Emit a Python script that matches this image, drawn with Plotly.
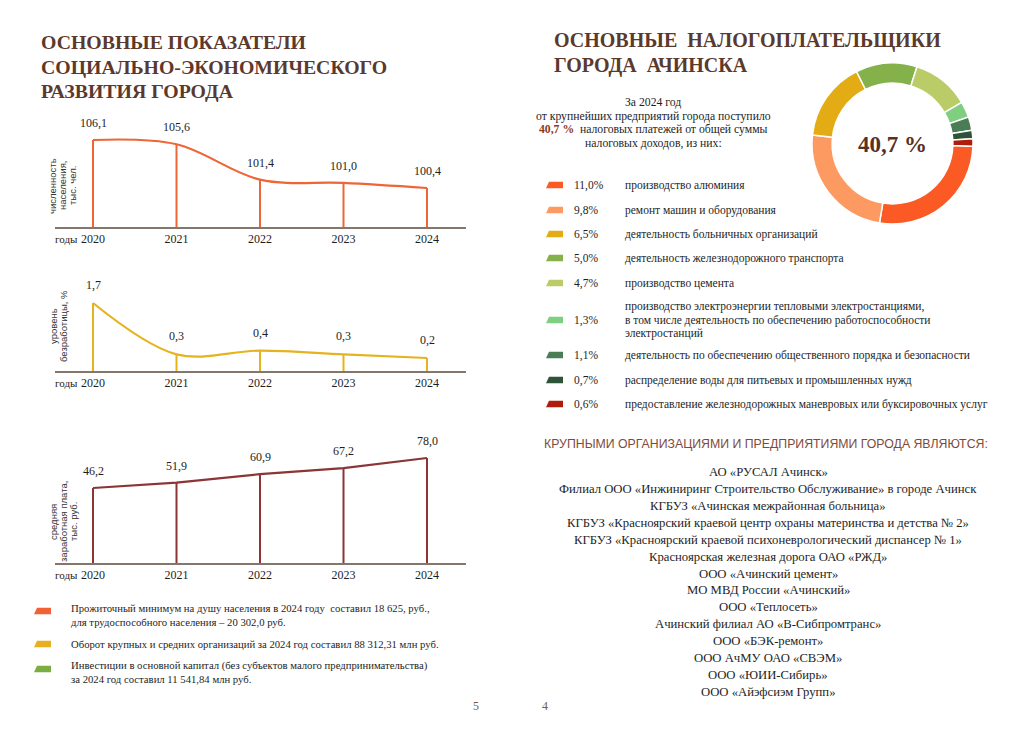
import plotly.graph_objects as go

# ---------------- data ----------------
years = [2020, 2021, 2022, 2023, 2024]
population = [106.1, 105.6, 101.4, 101.0, 100.4]
unemployment = [1.7, 0.3, 0.4, 0.3, 0.2]
salary = [46.2, 51.9, 60.9, 67.2, 78.0]

tax_shares = [11.0, 9.8, 6.5, 5.0, 4.7, 1.3, 1.1, 0.7, 0.6]
tax_labels = [
    ["производство алюминия"],
    ["ремонт машин и оборудования"],
    ["деятельность больничных организаций"],
    ["деятельность железнодорожного транспорта"],
    ["производство цемента"],
    ["производство электроэнергии тепловыми электростанциями,",
     "в том числе деятельность по обеспечению работоспособности",
     "электростанций"],
    ["деятельность по обеспечению общественного порядка и безопасности"],
    ["распределение воды для питьевых и промышленных нужд"],
    ["предоставление железнодорожных маневровых или буксировочных услуг"],
]
tax_colors = ["#fb5a24", "#fd9a62", "#e3ac14", "#84b14a", "#b9cc68",
              "#7fcf80", "#4a7d56", "#2f5338", "#b01c0c"]
total_share = 40.7

companies = [
    "АО «РУСАЛ Ачинск»",
    "Филиал ООО «Инжиниринг Строительство Обслуживание» в городе Ачинск",
    "КГБУЗ «Ачинская межрайонная больница»",
    "КГБУЗ «Красноярский краевой центр охраны материнства и детства № 2»",
    "КГБУЗ «Красноярский краевой психоневрологический диспансер № 1»",
    "Красноярская железная дорога ОАО «РЖД»",
    "ООО «Ачинский цемент»",
    "МО МВД России «Ачинский»",
    "ООО «Теплосеть»",
    "Ачинский филиал АО «В-Сибпромтранс»",
    "ООО «БЭК-ремонт»",
    "ООО АчМУ ОАО «СВЭМ»",
    "ООО «ЮИИ-Сибирь»",
    "ООО «Айэфсиэм Групп»",
]

facts = [
    ["Прожиточный минимум на душу населения в 2024 году  составил 18 625, руб.,",
     "для трудоспособного населения – 20 302,0 руб."],
    ["Оборот крупных и средних организаций за 2024 год составил 88 312,31 млн руб."],
    ["Инвестиции в основной капитал (без субъектов малого предпринимательства)",
     "за 2024 год составил 11 541,84 млн руб."],
]
fact_colors = ["#f26134", "#e8b020", "#7cad42"]

# ---------------- helpers ----------------
OFF = 8                      # page body margin of the html page
W, H = 1024 - OFF, 730 - OFF
def X(px): return (px - OFF) / W
def Y(py): return 1 - (py - OFF) / H

SERIF = "Liberation Serif"
SANS = "Liberation Sans"
BROWN = "#5b392c"
TXT = "#1e1e1e"

fig = go.Figure()
annotations = []
shapes = []

def text(x, y, s, size=11.5, color=TXT, anchor="left", family=SERIF, angle=0, yanchor="middle"):
    annotations.append(dict(x=X(x), y=Y(y), xref="paper", yref="paper", text=s,
                            showarrow=False, xanchor=anchor, yanchor=yanchor,
                            textangle=angle,
                            font=dict(family=family, size=size, color=color)))

def fmt(v):
    return f"{v:.1f}".replace(".", ",")

# ---------------- line charts ----------------
charts = [
    dict(vals=population, color="#ee6536", shape="spline", ax="", dom=(227, 115), rng=(95.77, 109.07),
         title=["численность", "населения,", "тыс. чел."], tcy=186, shift=17),
    dict(vals=unemployment, color="#e6b320", shape="spline", ax="2", dom=(371, 280), rng=(-0.1545, 2.327),
         title=["уровень", "безработицы, %"], tcy=326, shift=18),
    dict(vals=salary, color="#8b3535", shape="linear", ax="3", dom=(563, 430), rng=(-33.3, 107.7),
         title=["средняя", "заработная плата,", "тыс. руб."], tcy=522, shift=17),
]

xleft, xright = 55, 466
pxy = 83.5
xr = (2020 - (93 - xleft) / pxy, 2024 + (xright - 427) / pxy)
for c in charts:
    xa = "x" + c["ax"]
    ya = "y" + c["ax"]
    base = c["rng"][0]
    # drop lines
    dx, dy = [], []
    for yr, v in zip(years, c["vals"]):
        dx += [yr, yr, None]
        dy += [base, v, None]
    fig.add_trace(go.Scatter(x=dx, y=dy, mode="lines", xaxis=xa, yaxis=ya,
                             line=dict(color=c["color"], width=2), hoverinfo="skip",
                             showlegend=False))
    fig.add_trace(go.Scatter(x=years, y=c["vals"], mode="lines", xaxis=xa, yaxis=ya,
                             line=dict(color=c["color"], width=2.2, shape=c["shape"]),
                             showlegend=False))
    for yr, v in zip(years, c["vals"]):
        annotations.append(dict(x=yr, y=v, xref=xa, yref=ya, text=fmt(v), showarrow=False,
                                yshift=c["shift"], xanchor="center", yanchor="middle",
                                font=dict(family=SERIF, size=12, color=TXT)))
    lay_x = "xaxis" + c["ax"]
    lay_y = "yaxis" + c["ax"]
    fig.update_layout(**{
        lay_x: dict(domain=[X(xleft), X(xright)], range=list(xr), anchor=ya,
                    showline=True, linecolor="#85766c", linewidth=1.5,
                    showgrid=False, zeroline=False, ticks="",
                    tickvals=years, ticktext=[str(y) for y in years],
                    tickfont=dict(family=SERIF, size=12, color=TXT)),
        lay_y: dict(domain=[Y(c["dom"][0]), Y(c["dom"][1])], range=list(c["rng"]),
                    visible=False, anchor=xa),
    })
    # "годы"
    text(53, c["dom"][0] + 12, "годы", size=11)
    # vertical axis title
    for i, line in enumerate(c["title"]):
        text(53 + 10 * i, c["tcy"], line, size=9.5, family=SANS, color="#333333",
             anchor="center", angle=-90)

# ---------------- donut ----------------
fig.add_trace(go.Pie(values=tax_shares, marker=dict(colors=tax_colors, line=dict(color="white", width=1.5)),
                     hole=0.75, sort=False, direction="clockwise", rotation=92,
                     textinfo="none", hoverinfo="skip", showlegend=False,
                     domain=dict(x=[X(812), X(973)], y=[Y(224), Y(63)])))
text(892, 145, "<b>" + fmt(total_share) + " %</b>", size=23, color="#5a3022", anchor="center")

# ---------------- headings ----------------
for i, s in enumerate(["ОСНОВНЫЕ ПОКАЗАТЕЛИ", "СОЦИАЛЬНО-ЭКОНОМИЧЕСКОГО", "РАЗВИТИЯ ГОРОДА"]):
    text(39, 42 + 24.5 * i, "<b>" + s + "</b>", size=19.8, color=BROWN)
for i, s in enumerate(["ОСНОВНЫЕ  НАЛОГОПЛАТЕЛЬЩИКИ", "ГОРОДА  АЧИНСКА"]):
    text(552, 40 + 25 * i, "<b>" + s + "</b>", size=20, color=BROWN)

# intro text
intro = ["За 2024 год",
         "от крупнейших предприятий города поступило",
         "<b><span style='color:#8a3a1c'>" + fmt(total_share) + " %</span></b>  налоговых платежей от общей суммы",
         "налоговых доходов, из них:"]
for i, s in enumerate(intro):
    text(653, 103 + 13.4 * i, s, size=11.7, anchor="center")

# right legend
row_y = [185, 210, 234, 258, 283, 320, 355, 380, 404]
for yc, share, lab, col in zip(row_y, tax_shares, tax_labels, tax_colors):
    x0, w, h, sl = 546, 17, 6.5, 3
    shapes.append(dict(type="path", xref="paper", yref="paper",
                       path=f"M {X(x0+sl)},{Y(yc-h/2)} L {X(x0+w)},{Y(yc-h/2)} L {X(x0+w)},{Y(yc+h/2)} L {X(x0)},{Y(yc+h/2)} Z",
                       fillcolor=col, line=dict(width=0)))
    text(572, yc, fmt(share) + "%", size=11.5)
    n = len(lab)
    for j, line in enumerate(lab):
        text(623, yc + (j - (n - 1) / 2) * 13.5, line, size=11.5)

# organisations
text(766, 444, "КРУПНЫМИ ОРГАНИЗАЦИЯМИ И ПРЕДПРИЯТИЯМИ ГОРОДА ЯВЛЯЮТСЯ:", size=12.3,
     color="#7e4a3a", anchor="center", family=SANS)
for i, s in enumerate(companies):
    text(768, 472 + 16.92 * i, s, size=12.7, anchor="center")

# bottom-left facts
fact_y = [(611, [608, 622]), (644, [644]), (669, [665, 679])]
for (my, ly), lines, col in zip(fact_y, facts, fact_colors):
    x0, w, h, sl = 34, 17, 6.5, 3
    shapes.append(dict(type="path", xref="paper", yref="paper",
                       path=f"M {X(x0+sl)},{Y(my-h/2)} L {X(x0+w)},{Y(my-h/2)} L {X(x0+w)},{Y(my+h/2)} L {X(x0)},{Y(my+h/2)} Z",
                       fillcolor=col, line=dict(width=0)))
    for yy, line in zip(ly, lines):
        text(69, yy, line, size=10.7)

# page numbers
text(476, 706, "5", size=12, color="#7a5a48", anchor="center")
text(545, 706, "4", size=12, color="#7a5a48", anchor="center")

fig.update_layout(width=W, height=H, autosize=False,
                  margin=dict(l=0, r=0, t=0, b=0),
                  paper_bgcolor="white", plot_bgcolor="white",
                  annotations=annotations, shapes=shapes, showlegend=False)

fig.write_html("out.html")
